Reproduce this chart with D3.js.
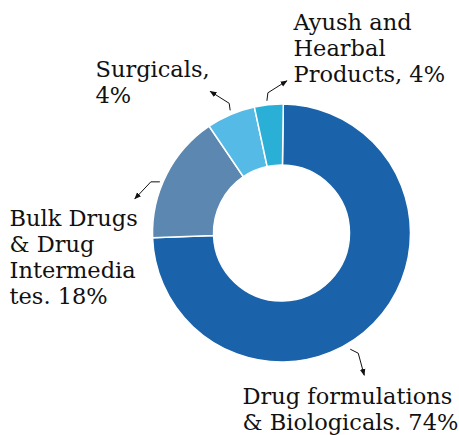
<!DOCTYPE html>
<html>
<head>
<meta charset="utf-8">
<script src="https://cdn.jsdelivr.net/npm/d3@7"></script>
<style>
  body { margin: 0; background: #fff; }
  text { font-family: "DejaVu Serif", serif; fill: #111; }
</style>
</head>
<body>
<div id="graph"></div>
<script>
"use strict";

var width = 459,
    height = 435;

const categories = ["Drug formulations & Biologicals", "Bulk Drugs & Drug Intermediates", "Surgicals", "Ayush and Hearbal Products"];
const values = [74.2, 16.1, 6.1, 3.6];
const colors = ["#1a62aa", "#5b87b0", "#55bbe6", "#2aafd7"];

// label text as printed on the chart
const labelLines = [
    ["Drug formulations", "& Biologicals. 74%"],
    ["Bulk Drugs", "& Drug", "Intermedia", "tes. 18%"],
    ["Surgicals,", "4%"],
    ["Ayush and", "Hearbal", "Products, 4%"]
];

let cx = 281.5, cy = 233, rOuter = 129, rInner = 68;

// label placement relative to centre, pointer as [angle, radius] then offsets
const labelPos = [
    {x: -39, y: 171, ptr: [[149.4, 135], [8, 4], [14, 26]]},
    {x: -272, y: -7, ptr: [[292.8, 132], [-9, 0], [-25, 17]]},
    {x: -186, y: -156, ptr: [[337.3, 133], [-1, -7], [-20, -19]]},
    {x: 12, y: -203, ptr: [[353.7, 133], [1, -8], [20, -20]]}
];

let svg = d3.select("#graph")
    .append("svg")
    .attr("width", width)
    .attr("height", height);

svg.append("defs").append("marker")
    .attr("id", "arrow")
    .attr("viewBox", "0 0 10 10")
    .attr("refX", 9).attr("refY", 5)
    .attr("markerWidth", 7).attr("markerHeight", 7)
    .attr("orient", "auto")
    .append("path")
    .attr("d", "M0,1 L10,5 L0,9 Z")
    .attr("fill", "#111");

let g = svg.append("g").attr("transform", "translate(" + cx + "," + cy + ")");

let pie = d3.pie().sort(null).value(d => d)
    .startAngle(0.8 * Math.PI / 180)
    .endAngle(2 * Math.PI + 0.8 * Math.PI / 180);
let arc = d3.arc().innerRadius(rInner).outerRadius(rOuter);

g.selectAll("path.slice")
    .data(pie(values))
    .enter()
    .append("path")
    .attr("class", "slice")
    .attr("d", arc)
    .attr("fill", (d, i) => colors[i])
    .attr("stroke", "#fff")
    .attr("stroke-width", 1.5);

// pointer lines
let line = d3.line();
labelPos.forEach(function(p) {
    let a = p.ptr[0][0] * Math.PI / 180, r = p.ptr[0][1];
    let x0 = r * Math.sin(a), y0 = -r * Math.cos(a);
    let pts = [[x0, y0], [x0 + p.ptr[1][0], y0 + p.ptr[1][1]], [x0 + p.ptr[2][0], y0 + p.ptr[2][1]]];
    g.append("path")
        .attr("d", line(pts))
        .attr("fill", "none")
        .attr("stroke", "#111")
        .attr("stroke-width", 1)
        .attr("marker-end", "url(#arrow)");
});

// labels
labelLines.forEach(function(lines, i) {
    let t = g.append("text")
        .attr("x", labelPos[i].x)
        .attr("y", labelPos[i].y)
        .attr("font-size", 22.5);
    lines.forEach(function(l, j) {
        t.append("tspan")
            .attr("x", labelPos[i].x)
            .attr("dy", j == 0 ? 0 : 26)
            .text(l);
    });
});
</script>
</body>
</html>
